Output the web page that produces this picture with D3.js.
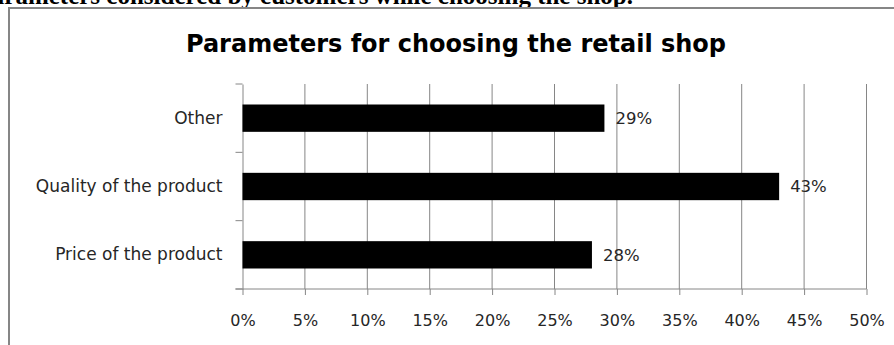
<!DOCTYPE html>
<html>
<head>
<meta charset="utf-8">
<script src="https://cdn.jsdelivr.net/npm/d3@7"></script>
<style>
  html, body { margin: 0; padding: 0; background: #fff; }
  svg { display: block; }
</style>
</head>
<body>
<svg id="chart"></svg>
<script>
// Chart data
const categories = ['Other', 'Quality of the product', 'Price of the product']
const values = [0.29, 0.43, 0.28]
const xTicks = [0, 0.05, 0.1, 0.15, 0.2, 0.25, 0.3, 0.35, 0.4, 0.45, 0.5]
const chartTitle = 'Parameters for choosing the retail shop'
const pageHeading = 'Parameters considered by customers while choosing the shop.'

const width = 894
const height = 345
const plot = { left: 242.5, right: 866.5, top: 84, bottom: 289 }
const gridColor = '#868686'
const textColor = '#262626'

const svg = d3.select('#chart')
  .attr('width', width)
  .attr('height', height)

// Heading from the document, cut off at the top like in the scan
svg.append('text')
  .attr('x', 633)
  .attr('y', 4)
  .attr('text-anchor', 'end')
  .attr('font-family', '"Liberation Serif", serif')
  .attr('font-weight', 'bold')
  .attr('font-size', 25)
  .attr('fill', '#000')
  .text(pageHeading)

// Chart frame (runs off right and bottom)
svg.append('rect')
  .attr('x', 9)
  .attr('y', 8)
  .attr('width', 1000)
  .attr('height', 500)
  .attr('fill', 'none')
  .attr('stroke', gridColor)
  .attr('stroke-width', 2)

// Title
svg.append('text')
  .attr('x', 456)
  .attr('y', 52)
  .attr('text-anchor', 'middle')
  .attr('font-family', '"DejaVu Sans", sans-serif')
  .attr('font-weight', 'bold')
  .attr('font-size', 24)
  .attr('fill', '#000')
  .text(chartTitle)

// Scales
const x = d3.scaleLinear()
  .domain([0, 0.5])
  .range([plot.left, plot.right])

const y = d3.scaleBand()
  .domain(categories)
  .range([plot.top, plot.bottom])
  .paddingInner(0.6)
  .paddingOuter(0.3)

// Gridlines
svg.append('g')
  .selectAll('line')
  .data(xTicks.slice(1))
  .join('line')
  .attr('x1', d => x(d))
  .attr('x2', d => x(d))
  .attr('y1', plot.top)
  .attr('y2', plot.bottom)
  .attr('stroke', gridColor)
  .attr('stroke-width', 1)

// X axis
const xAxis = svg.append('g')
  .attr('transform', `translate(0,${plot.bottom})`)
  .call(d3.axisBottom(x)
    .tickValues(xTicks)
    .tickFormat(d3.format('.0%'))
    .tickSize(6)
    .tickSizeOuter(0)
    .tickPadding(20))

xAxis.select('.domain').remove()
xAxis.selectAll('.tick line').attr('stroke', gridColor)
xAxis.selectAll('.tick text')
  .attr('font-family', '"DejaVu Sans", sans-serif')
  .attr('font-size', 16)
  .attr('fill', textColor)

svg.append('line')
  .attr('x1', plot.left - 7)
  .attr('x2', plot.right)
  .attr('y1', plot.bottom)
  .attr('y2', plot.bottom)
  .attr('stroke', gridColor)

// Y axis
const yAxis = svg.append('g')
  .attr('transform', `translate(${plot.left},0)`)
  .call(d3.axisLeft(y).tickSize(0).tickPadding(20))

yAxis.select('.domain').attr('stroke', gridColor)
yAxis.selectAll('.tick text')
  .attr('font-family', '"DejaVu Sans", sans-serif')
  .attr('font-size', 17)
  .attr('fill', textColor)

// Category boundary ticks
const boundaries = d3.range(categories.length + 1).map(i => plot.top + i * y.step())
svg.append('g')
  .selectAll('line')
  .data(boundaries)
  .join('line')
  .attr('x1', plot.left - 7)
  .attr('x2', plot.left)
  .attr('y1', d => d)
  .attr('y2', d => d)
  .attr('stroke', gridColor)

// Bars
svg.append('g')
  .selectAll('rect')
  .data(categories)
  .join('rect')
  .attr('x', x(0))
  .attr('y', d => y(d))
  .attr('width', (d, i) => x(values[i]) - x(0))
  .attr('height', y.bandwidth())
  .attr('fill', '#000')

// Value labels
svg.append('g')
  .selectAll('text')
  .data(categories)
  .join('text')
  .attr('x', (d, i) => x(values[i]) + 11)
  .attr('y', d => y(d) + y.bandwidth() / 2)
  .attr('dy', '0.35em')
  .attr('font-family', '"DejaVu Sans", sans-serif')
  .attr('font-size', 16.5)
  .attr('fill', textColor)
  .text((d, i) => d3.format('.0%')(values[i]))
</script>
</body>
</html>
